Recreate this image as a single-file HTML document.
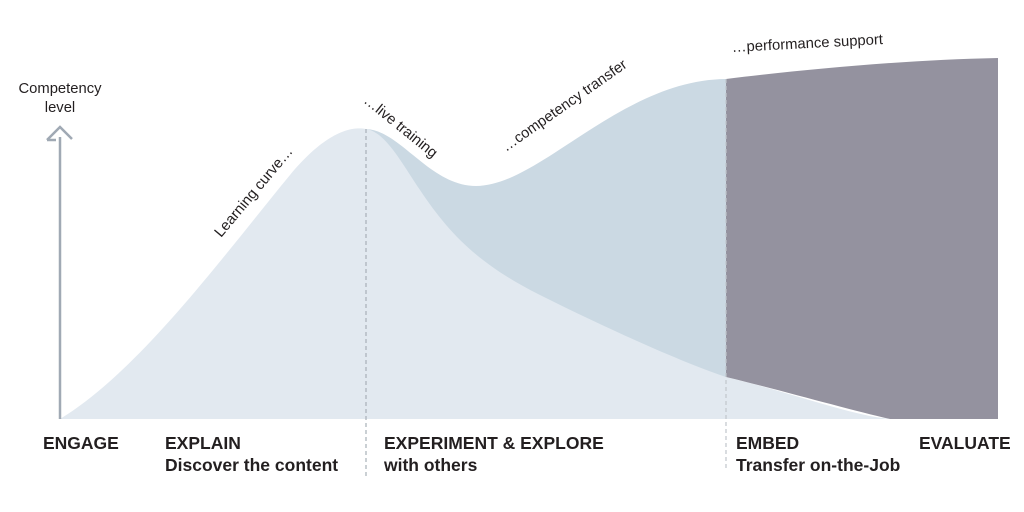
<!DOCTYPE html>
<html><head><style>
html,body{margin:0;padding:0;background:#fff;}
svg{display:block;}
text{font-family:"Liberation Sans",Arial,sans-serif;fill:#231f20;}
.b{font-weight:bold;font-size:17.5px;}
.s{font-size:14.8px;}
</style></head><body>
<svg width="1024" height="512" viewBox="0 0 1024 512">
<path d="M366,129 C400,130 430,186 476,186 C540,186 620,80 726,79 L726,377 L366,377 Z" fill="#cbd9e3"/>
<path d="M60,419 C140,370 220,260 290,175 C325,133 350,126 366,129 C385,132 400,160 420,190 C450,235 480,265 540,295 C620,335 690,365 726,377 C800,395 850,415 890,419 Z" fill="#e2e9f0"/>
<path d="M726,79 C800,70 900,60 998,58 L998,419 L890,419 C850,410 780,390 726,377 Z" fill="#94929f"/>
<line x1="366" y1="129" x2="366" y2="478" stroke="#a8b0b8" stroke-width="1.2" stroke-dasharray="4,3"/>
<line x1="726" y1="79" x2="726" y2="470" stroke="#c0c6cc" stroke-width="1.2" stroke-dasharray="4,3"/>
<path d="M60,419 L60,137 M47,140 L60,127 L72,139 M47,140 L56,140" fill="none" stroke="#a0a9b4" stroke-width="2.5"/>
<text class="s" x="60" y="93" text-anchor="middle">Competency</text>
<text class="s" x="60" y="112" text-anchor="middle">level</text>
<text class="s" transform="translate(221,238) rotate(-50)">Learning curve…</text>
<text class="s" transform="translate(363,102) rotate(39)">…live training</text>
<text class="s" transform="translate(506,152) rotate(-35)">…competency transfer</text>
<text class="s" transform="translate(732,52) rotate(-3)">…performance support</text>
<text class="b" x="43" y="449">ENGAGE</text>
<text class="b" x="165" y="449">EXPLAIN</text>
<text class="b" x="165" y="471">Discover the content</text>
<text class="b" x="384" y="449">EXPERIMENT &amp; EXPLORE</text>
<text class="b" x="384" y="471">with others</text>
<text class="b" x="736" y="449">EMBED</text>
<text class="b" x="736" y="471">Transfer on-the-Job</text>
<text class="b" x="919" y="449">EVALUATE</text>
</svg>
</body></html>
